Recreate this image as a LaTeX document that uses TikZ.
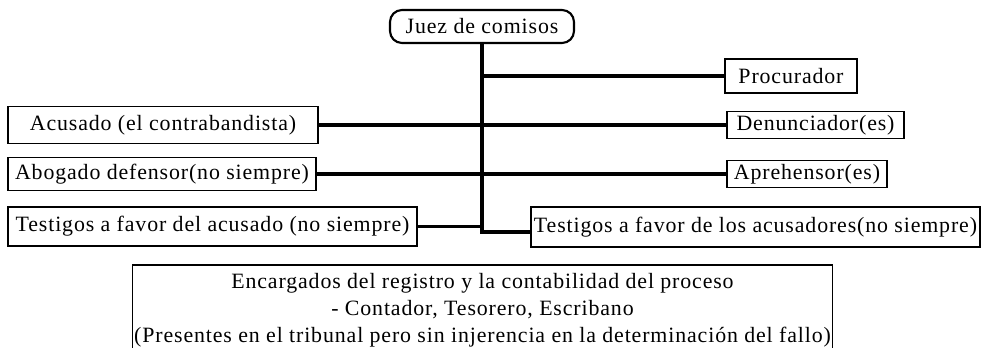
\documentclass[tikz,border=0pt]{standalone}
\usepackage{fontspec}
\setmainfont{Liberation Serif}[LetterSpace=4]
\begin{document}
\begin{tikzpicture}[x=0.75pt,y=-0.75pt,
  box/.style={draw,line width=0.8pt,inner sep=1pt,align=center,
    font=\fontsize{16.4pt}{20.25pt}\selectfont},
  juezbox/.style={box,line width=1.6pt,rounded corners=9pt},
  conn/.style={line width=2.3pt,line join=miter}]
\useasboundingbox (0,0) rectangle (981,348);
\clip (0,0) rectangle (981,348);
\node[juezbox,minimum width=138pt,minimum height=24.75pt] (juez) at (482,26.5) {Juez de comisos};
\node[box,minimum width=99pt,minimum height=25.5pt] (proc) at (791,76) {Procurador};
\node[box,minimum width=232.5pt,minimum height=27.75pt] (acus) at (163,125) {Acusado (el contrabandista)};
\node[box,minimum width=132.75pt,minimum height=20.25pt] (denu) at (815.5,125) {Denunciador(es)};
\node[box,minimum width=231pt,minimum height=24.75pt] (abog) at (162,174) {Abogado defensor(no siempre)};
\node[box,minimum width=120pt,minimum height=20.25pt] (apre) at (807,174) {Aprehensor(es)};
\node[box,minimum width=306.75pt,minimum height=29.25pt] (tl) at (212.5,226.5) {Testigos a favor del acusado (no siempre)};
\node[box,minimum width=336.75pt,minimum height=30pt] (tr) at (755.5,227) {Testigos a favor de los acusadores(no siempre)};
\node[box,draw=none,anchor=north,minimum width=519.75pt,inner ysep=5.5pt] (reg) at (482.5,265)
  {Encargados del registro y la contabilidad del proceso\\
   - Contador, Tesorero, Escribano\\
   (Presentes en el tribunal pero sin injerencia en la determinación del fallo)};
\draw[line width=0.8pt] ([yshift=-20pt]reg.south west) -- (reg.north west) -- (reg.north east) -- ([yshift=-20pt]reg.south east);
\coordinate (tb) at (482,232);
\draw[conn] (juez.south) -- (tb) -- (tb -| tr.west);
\draw[conn] (juez.south |- proc.west) -- (proc.west);
\draw[conn] (acus.east) -- (denu.west);
\draw[conn] (abog.east) -- (apre.west);
\draw[conn] (tl.east) -- (tl.east -| tb);
\end{tikzpicture}
\end{document}
